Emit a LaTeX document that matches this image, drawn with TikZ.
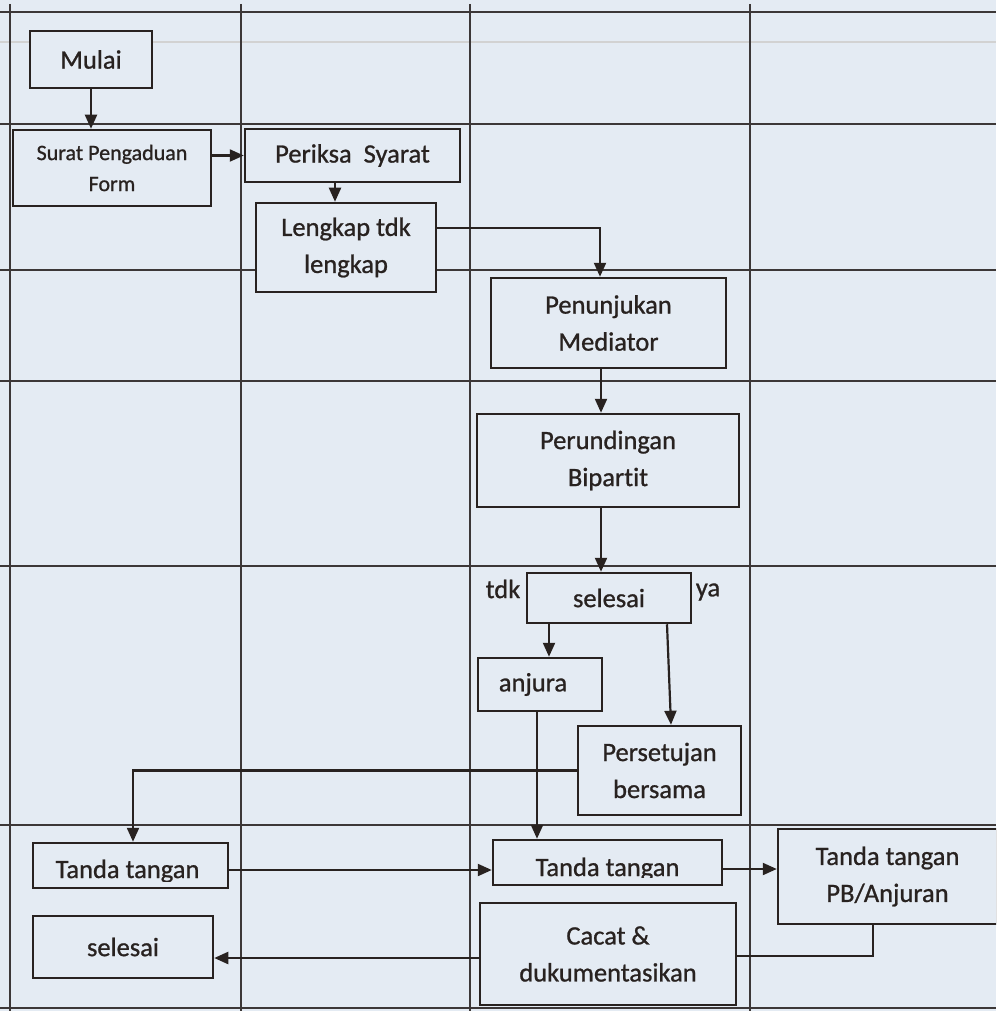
\documentclass[tikz,border=0pt]{standalone}
\usepackage{fontspec}
\setmainfont[FakeBold=0.9,RawFeature=-liga]{Carlito}
\usetikzlibrary{arrows.meta,calc}
\definecolor{paper}{RGB}{228,235,243}
\definecolor{ink}{RGB}{40,34,32}
\definecolor{gridc}{RGB}{60,55,55}
\begin{document}
\begin{tikzpicture}[x=1pt,y=-1pt,
  procbox/.style={draw=ink,fill=paper,line width=2.5pt,rectangle,inner sep=0pt,align=center,text=ink,font=\fontsize{26.5}{37}\selectfont},
  lbl/.style={text=ink,inner sep=0pt,font=\fontsize{26.5}{37}\selectfont},
  flow/.style={draw=ink,line width=2.2pt,-{Triangle[length=14pt,width=12pt]}},
  plain/.style={draw=ink,line width=2.2pt},
  gridline/.style={draw=gridc,line width=1.3pt}]
\useasboundingbox (0,0) rectangle (996,1011);
\clip (0,0) rectangle (996,1011);
\fill[paper] (0,0) rectangle (996,1011);
\draw[gray!35,line width=2.5pt] (0,42) -- (996,42);
% grid
\foreach \yy in {12,124,270,381,566,825,1008} \draw[gridline] (0,\yy) -- (996,\yy);
\foreach \xx in {10,241,470,750} \draw[gridline] (\xx,4) -- (\xx,1011);
% nodes
\node[procbox,minimum width=122pt,minimum height=57pt] (mulai) at (91,59.5) {Mulai};
\node[procbox,minimum width=198pt,minimum height=76pt,font=\fontsize{22}{31}\selectfont] (surat) at (112,168) {Surat Pengaduan\\Form};
\node[procbox,minimum width=215pt,minimum height=53pt] (periksa) at (352.5,155.5) {Periksa\ \ Syarat};
\node[procbox,minimum width=180pt,minimum height=89pt] (lengkap) at (346,247.5) {Lengkap tdk\\lengkap};
\node[procbox,minimum width=235pt,minimum height=90pt] (penunjukan) at (608.5,323) {Penunjukan\\Mediator};
\node[procbox,minimum width=262pt,minimum height=93pt] (perundingan) at (608,460.5) {Perundingan\\Bipartit};
\node[procbox,minimum width=164pt,minimum height=50pt] (selesai1) at (609,598) {\raisebox{-4pt}{selesai}};
\node[lbl] (tdk) at (503,589) {tdk};
\node[lbl] (ya) at (708,592) {ya};
\node[procbox,minimum width=124pt,minimum height=53pt] (anjura) at (540,684.5) {\hspace*{-14pt}anjura};
\node[procbox,minimum width=163pt,minimum height=89pt] (persetujan) at (659.5,770.5) {Persetujan\\bersama};
\node[procbox,minimum width=195pt,minimum height=45pt] (tt1) at (130.5,865.5) {};
\begin{scope}
\clip (tt1.north west) rectangle ([yshift=8pt]tt1.south east);
\node[lbl,anchor=base] (tt1txt) at (127.5,878) {Tanda tangan};
\end{scope}
\node[procbox,minimum width=229pt,minimum height=45pt] (tt2) at (607.5,862.5) {};
\begin{scope}
\clip (tt2.north west) rectangle ([yshift=8.5pt]tt2.south east);
\node[lbl,anchor=base] (tt2txt) at (607.5,876) {Tanda tangan};
\end{scope}
\node[procbox,minimum width=219pt,minimum height=95pt] (tt3) at (887.5,876.5) {Tanda tangan\\PB/Anjuran};
\node[procbox,minimum width=256pt,minimum height=102pt] (cacat) at (608,954) {Cacat \&\\dukumentasikan};
\node[procbox,minimum width=180pt,minimum height=62pt] (selesai2) at (123,947) {selesai};
% connectors
\draw[flow] (mulai.south) -- (mulai.south |- surat.north);
\draw[flow] (surat.east |- periksa.west) -- (periksa.west);
\draw[flow] ([xshift=-11pt]lengkap.north |- periksa.south) -- ([xshift=-11pt]lengkap.north);
\draw[flow] ([yshift=19.5pt]lengkap.east) -| ([xshift=-8.5pt]penunjukan.north);
\draw[flow] ([xshift=-7.5pt]penunjukan.south) -- ([xshift=-7.5pt]penunjukan.south |- perundingan.north);
\draw[flow] ([xshift=-7pt]perundingan.south) -- ([xshift=-7pt]perundingan.south |- selesai1.north);
\draw[flow] ([xshift=9pt]anjura.north |- selesai1.south) -- ([xshift=9pt]anjura.north);
\draw[flow] ([xshift=58pt]selesai1.south) -- ([xshift=11.5pt]persetujan.north);
\draw[flow] (persetujan.west) -| ([xshift=2.5pt]tt1.north);
\draw[flow] ([xshift=-3pt]anjura.south) -- ([xshift=-3pt]anjura.south |- tt2.north);
\draw[flow] ([yshift=-4.5pt]tt1.east) -- ([yshift=-4.5pt]tt1.east -| tt2.west);
\draw[flow] ([yshift=-6.5pt]tt2.east) -- ([yshift=-6.5pt]tt2.east -| tt3.west);
\draw[plain] ([xshift=-14.5pt]tt3.south) |- ([yshift=-2pt]cacat.east);
\draw[flow] ([yshift=-4pt]cacat.west) -- ([yshift=-4pt]cacat.west -| selesai2.east);
\end{tikzpicture}
\end{document}
